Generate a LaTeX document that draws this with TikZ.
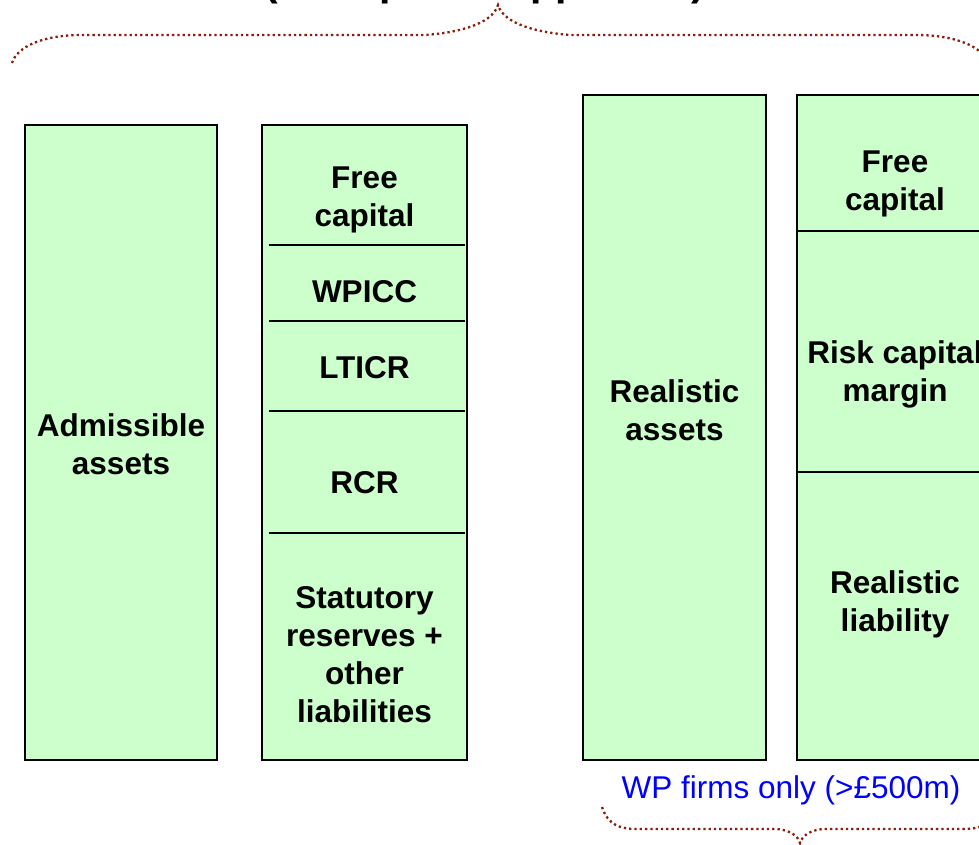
\documentclass[tikz,border=0pt]{standalone}
\usepackage{fontspec}
\setmainfont{Liberation Sans}
\definecolor{boxfill}{RGB}{204,255,204}
\definecolor{bracecol}{RGB}{139,30,8}
\definecolor{noteblue}{RGB}{0,0,255}
\begin{document}
\begin{tikzpicture}[x=1pt,y=-1pt,
  column/.style={draw=black, fill=boxfill, line width=2.4pt, rectangle, inner sep=0pt},
  divider/.style={draw=black, line width=2pt},
  % the north anchor sits 22.4pt above the baseline of the LAST line
  lbl/.style={font=\bfseries\fontsize{31.5}{38}\selectfont, align=center, inner sep=0pt,
              text height=22.4pt, text depth=0pt, anchor=north},
  dotbrace/.style={draw=bracecol, line width=2.3pt, dash pattern=on 2.3pt off 3pt}]
\useasboundingbox (0,0) rectangle (979,845);

% heading (runs off the top edge)
\node[font=\bfseries\fontsize{41}{49}\selectfont, inner sep=0pt, anchor=base] (title) at (485,-4.5) {(Twin peaks approach)};

% brace spanning both balance sheets
\draw[dotbrace] (12,63) .. controls (17,47) and (42,35) .. (82,35) -- (425,35)
  .. controls (455,33) and (492,25) .. (498,5)
  .. controls (504,25) and (541,33) .. (571,35) -- (916,35)
  .. controls (956,35) and (983,47) .. (988,63);

% columns
\node[column, minimum width=192pt, minimum height=635pt] (adm) at (121,442.5) {};
\node[column, minimum width=205pt, minimum height=635pt] (stat) at (364.5,442.5) {};
\node[column, minimum width=183pt, minimum height=665pt] (rasset) at (674.5,427.5) {};
\node[column, minimum width=196pt, minimum height=665pt] (rliab) at (895,427.5) {};

% section lines
\draw[divider] (269,245) -- (465,245);
\draw[divider] (269,321) -- (465,321);
\draw[divider] (269,411) -- (465,411);
\draw[divider] (269,533) -- (465,533);
\draw[divider] (798,231) -- (993,231);
\draw[divider] (798,472) -- (993,472);

% labels
\node[lbl] (admtxt) at (121,452) {Admissible\\assets};
\node[lbl] (free1) at (364.5,204) {Free\\capital};
\node[lbl] (wpicc) at (364.5,280) {WPICC};
\node[lbl] (lticr) at (364.5,356) {LTICR};
\node[lbl] (rcr) at (364.5,471) {RCR};
\node[lbl] (statres) at (364.5,700) {Statutory\\reserves +\\other\\liabilities};
\node[lbl] (rassettxt) at (674.5,418) {Realistic\\assets};
\node[lbl] (free2) at (895,188) {Free\\capital};
\node[lbl] (rcm) at (895,379) {Risk capital\\margin};
\node[lbl] (rliabtxt) at (895,609) {Realistic\\liability};

% note and brace under the realistic balance sheet
\node[font=\fontsize{31.5}{38}\selectfont, text=noteblue, inner sep=0pt,
      text height=22.6pt, text depth=0pt, anchor=north] (wpnote) at (791,775.5) {WP firms only (>£500m)};
\draw[dotbrace] (602,807) .. controls (608,825) and (620,829) .. (637,829) -- (777,829)
  .. controls (790,830) and (798,836) .. (800,843)
  .. controls (802,836) and (810,830) .. (823,829) -- (963,829)
  .. controls (980,829) and (992,825) .. (998,807);
\end{tikzpicture}
\end{document}
